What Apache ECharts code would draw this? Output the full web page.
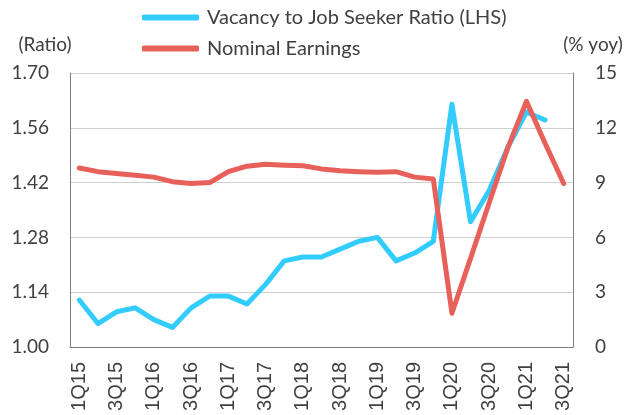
<!DOCTYPE html>
<html lang="en">
<head>
    <meta charset="UTF-8">
    <title>Vacancy to Job Seeker Ratio</title>
    <script type="text/javascript" src="https://cdn.jsdelivr.net/npm/echarts@6/dist/echarts.min.js"></script>
    <style>
        body { margin: 0; background: #fff; }
    </style>
</head>
<body>
<div id="chart" style="width: 628px;height: 415px"></div>
<script type="text/javascript">
    var quarters = ['1Q15','2Q15','3Q15','4Q15','1Q16','2Q16','3Q16','4Q16','1Q17','2Q17','3Q17','4Q17',
        '1Q18','2Q18','3Q18','4Q18','1Q19','2Q19','3Q19','4Q19','1Q20','2Q20','3Q20','4Q20','1Q21','2Q21','3Q21'];
    var vacancyRatio = [1.12, 1.06, 1.09, 1.10, 1.07, 1.05, 1.10, 1.13, 1.13, 1.11, 1.16, 1.22,
        1.23, 1.23, 1.25, 1.27, 1.28, 1.22, 1.24, 1.27, 1.62, 1.32, 1.40, 1.51, 1.60, 1.58, null];
    var nominalEarnings = [9.8, 9.6, 9.5, 9.4, 9.3, 9.05, 8.95, 9.0, 9.6, 9.9, 10.0, 9.95,
        9.92, 9.75, 9.65, 9.6, 9.56, 9.6, 9.3, 9.2, 1.85, 4.85, 7.9, 10.9, 13.45, 11.15, 8.95];

    var chart = echarts.init(document.getElementById('chart'));
    var textColor = '#404040';
    var axisGray = '#7f7f7f';

    var option = {
        animation: false,
        color: ['#33CCFF', '#E8605A'],
        legend: {
            orient: 'vertical',
            left: 137,
            top: -3,
            itemGap: 0,
            itemWidth: 57,
            itemHeight: 6,
            icon: 'roundRect',
            textStyle: {
                fontFamily: 'Lato',
                fontSize: 20,
                color: textColor,
                lineHeight: 31,
                padding: [0, 0, 0, 3]
            },
            data: ['Vacancy to Job Seeker Ratio (LHS)', 'Nominal Earnings']
        },
        grid: {
            left: 70,
            right: 55,
            top: 73,
            bottom: 68
        },
        xAxis: {
            type: 'category',
            data: quarters,
            axisLine: { lineStyle: { color: axisGray, width: 1 } },
            axisTick: { interval: 1, length: 6, lineStyle: { color: axisGray } },
            axisLabel: {
                interval: 1,
                rotate: 90,
                margin: 15,
                fontFamily: 'Liberation Sans',
                fontSize: 20,
                color: textColor
            }
        },
        yAxis: [
            {
                type: 'value',
                min: 1.0,
                max: 1.7,
                interval: 0.14,
                name: '(Ratio)',
                nameGap: 19,
                nameTextStyle: {
                    fontFamily: 'Lato',
                    fontSize: 19,
                    color: textColor,
                    padding: [0, 50, 0, 0]
                },
                axisLine: { show: true, lineStyle: { color: axisGray } },
                axisTick: { show: false },
                splitLine: { lineStyle: { color: '#d0d0d0', width: 1 } },
                axisLabel: {
                    margin: 21,
                    fontFamily: 'Lato',
                    fontSize: 19,
                    color: textColor,
                    formatter: function (v) { return v.toFixed(2); }
                }
            },
            {
                type: 'value',
                min: 0,
                max: 15,
                interval: 3,
                name: '(% yoy)',
                nameGap: 19,
                nameTextStyle: {
                    fontFamily: 'Lato',
                    fontSize: 19,
                    color: textColor,
                    padding: [0, 0, 0, 40]
                },
                axisLine: { show: true, lineStyle: { color: axisGray } },
                axisTick: { show: false },
                splitLine: { show: false },
                axisLabel: {
                    margin: 22,
                    fontFamily: 'Lato',
                    fontSize: 19,
                    color: textColor
                }
            }
        ],
        series: [
            {
                name: 'Vacancy to Job Seeker Ratio (LHS)',
                type: 'line',
                yAxisIndex: 0,
                data: vacancyRatio,
                showSymbol: false,
                lineStyle: { width: 5, cap: 'round', join: 'round' }
            },
            {
                name: 'Nominal Earnings',
                type: 'line',
                yAxisIndex: 1,
                data: nominalEarnings,
                showSymbol: false,
                lineStyle: { width: 5, cap: 'round', join: 'round' }
            }
        ]
    };

    option && chart.setOption(option);
</script>
</body>
</html>
